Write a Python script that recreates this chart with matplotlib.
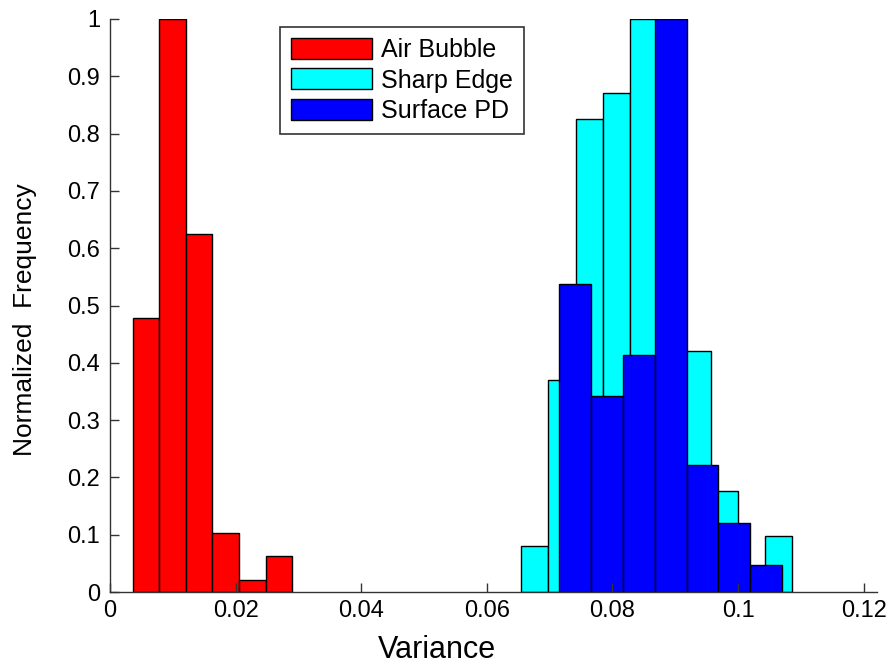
import numpy as np
import matplotlib
matplotlib.use("Agg")
import matplotlib.pyplot as plt
from matplotlib.ticker import FormatStrFormatter

plt.rcParams['font.family'] = ['Liberation Sans', 'DejaVu Sans']

# bin edges and normalized heights
air_edges = [0.00361, 0.00784, 0.01207, 0.0163, 0.02053, 0.02476, 0.0290]
air_freq = [0.479, 1.0, 0.625, 0.103, 0.021, 0.0635]

sharp_edges = [0.0655, 0.06981, 0.07411, 0.07842, 0.08272, 0.08703,
               0.09134, 0.09564, 0.09995, 0.10425, 0.10856]
sharp_freq = [0.081, 0.37, 0.825, 0.871, 1.0, 0.7, 0.421, 0.176, 0.0, 0.098]

surface_edges = [0.07155, 0.07661, 0.08167, 0.08673, 0.09179, 0.09685,
                 0.10191, 0.10697]
surface_freq = [0.537, 0.342, 0.414, 1.0, 0.222, 0.121, 0.048]

series = [
    ("Air Bubble", air_edges, air_freq, "#ff0000"),
    ("Sharp Edge", sharp_edges, sharp_freq, "#00ffff"),
    ("Surface PD", surface_edges, surface_freq, "#0000ff"),
]


def draw_hist(ax, edges, freq, color, label):
    edges = np.asarray(edges)
    ax.bar(edges[:-1], freq, width=np.diff(edges), align="edge",
           color=color, edgecolor="black", linewidth=1.0, label=label)


fig = plt.figure(figsize=(8.93, 6.66), dpi=100)
ax = fig.add_axes([0.1232, 0.111, 0.8588, 0.8605])

for label, edges, freq, color in series:
    draw_hist(ax, edges, freq, color, label)

ax.set_xlim(0, 0.1221)
ax.set_ylim(0, 1)
ax.set_xticks(np.arange(0, 0.121, 0.02))
ax.set_yticks(np.arange(0, 1.01, 0.1))
ax.xaxis.set_major_formatter(FormatStrFormatter('%g'))
ax.yaxis.set_major_formatter(FormatStrFormatter('%g'))

for side in ['top', 'right']:
    ax.spines[side].set_visible(False)
for side in ['left', 'bottom']:
    ax.spines[side].set_color('#333333')
    ax.spines[side].set_linewidth(1.0)

ax.tick_params(direction='in', length=6.5, width=1.0, color='#333333',
               labelsize=17, labelcolor='black')
ax.tick_params(axis='y', pad=7)
ax.tick_params(axis='x', pad=6)

ax.set_xlabel("Variance", fontsize=22)
ax.set_ylabel("Normalized  Frequency", fontsize=19)
ax.xaxis.set_label_coords(0.4257, -0.075)
ax.yaxis.set_label_coords(-0.095, 0.4756)

leg = ax.legend(loc='upper left', bbox_to_anchor=(0.2216, 0.986),
                borderaxespad=0, fontsize=18, handlelength=3.24,
                handleheight=0.92, handletextpad=0.36, labelspacing=0.24,
                borderpad=0.45, fancybox=False, framealpha=1)
leg.get_frame().set_edgecolor('#333333')
leg.get_frame().set_linewidth(1.2)

plt.savefig("out.png", dpi=100)
